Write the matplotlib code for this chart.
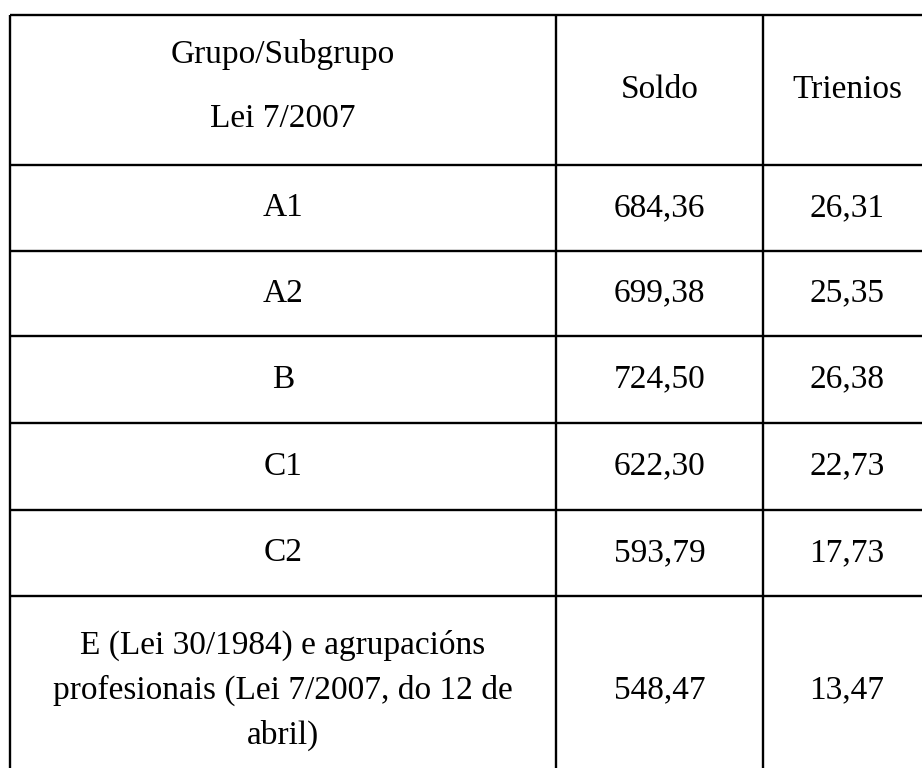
import matplotlib
matplotlib.use("Agg")
import matplotlib.pyplot as plt

# ---- data ----
header_group = ["Grupo/Subgrupo", "Lei 7/2007"]
header_cols = ["Soldo", "Trienios"]
groups = ["A1", "A2", "B", "C1", "C2",
          "E (Lei 30/1984) e agrupacións\nprofesionais (Lei 7/2007, do 12 de\nabril)"]
soldo = [684.36, 699.38, 724.50, 622.30, 593.79, 548.47]
trienios = [26.31, 25.35, 26.38, 22.73, 17.73, 13.47]

# ---- layout (pixel space) ----
W, H = 922, 768
col_edges = [10, 556, 763, 932]
row_edges = [15, 165, 251, 336, 423, 510, 596, 776]
header_line_y = [55, 119]
line_pitch = 45
fs = 24
lw = 1.7

def fmt(v):
    return f"{v:.2f}".replace(".", ",")

plt.rcParams['font.family'] = ['Liberation Serif', 'DejaVu Serif']
fig = plt.figure(figsize=(W / 100, H / 100), dpi=100)
ax = fig.add_axes([0, 0, 1, 1])
ax.set_xlim(0, W)
ax.set_ylim(H, 0)
ax.axis("off")

# grid lines
for y in row_edges:
    ax.plot([col_edges[0], col_edges[-1]], [y, y], color="black", lw=lw, solid_capstyle="butt")
for x in col_edges:
    ax.plot([x, x], [row_edges[0], row_edges[-1]], color="black", lw=lw, solid_capstyle="butt")

cx = [(col_edges[i] + col_edges[i + 1]) / 2 for i in range(3)]
cx[2] = 847

# header
for txt, y in zip(header_group, header_line_y):
    ax.text(cx[0], y, txt, ha="center", va="center", fontsize=fs)
hy = (row_edges[0] + row_edges[1]) / 2
for i, txt in enumerate(header_cols):
    ax.text(cx[i + 1], hy, txt, ha="center", va="center", fontsize=fs)

# body
for r, (g, s, t) in enumerate(zip(groups, soldo, trienios)):
    top, bot = row_edges[r + 1], row_edges[r + 2]
    yc = (top + bot) / 2 if r < len(groups) - 1 else 690
    lines = g.split("\n")
    n = len(lines)
    for k, ln in enumerate(lines):
        ax.text(cx[0], yc + (k - (n - 1) / 2) * line_pitch, ln, ha="center", va="center", fontsize=fs)
    ax.text(cx[1], yc, fmt(s), ha="center", va="center", fontsize=fs)
    ax.text(cx[2], yc, fmt(t), ha="center", va="center", fontsize=fs)

fig.savefig("out.png", dpi=100)
